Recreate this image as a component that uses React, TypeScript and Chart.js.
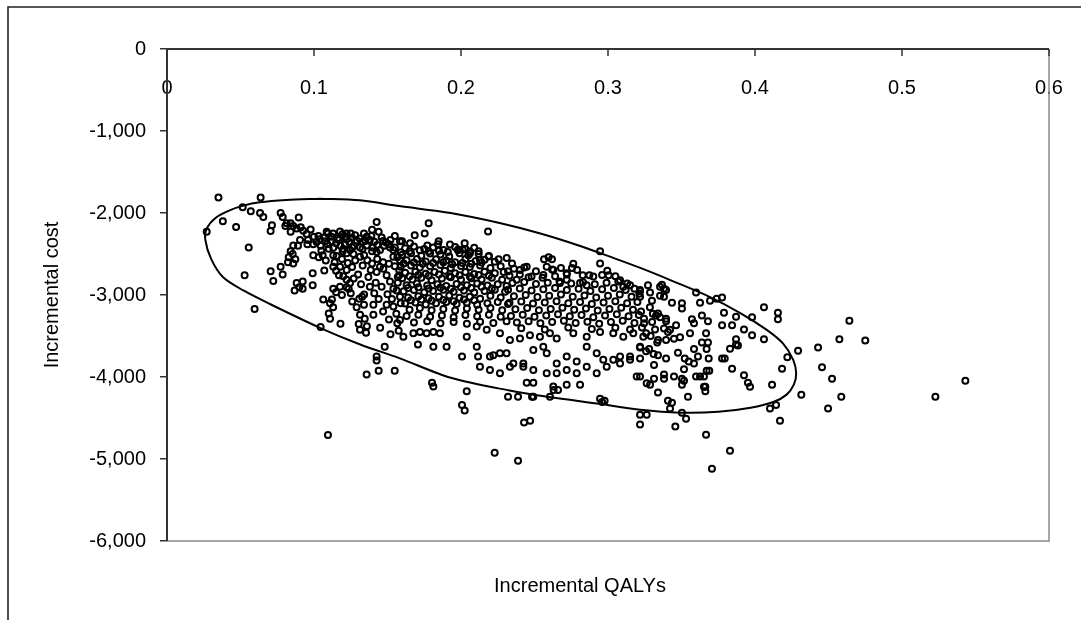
import React, { useEffect, useRef } from 'react';
import { Chart, registerables } from 'chart.js';

Chart.register(...registerables);

// ---------- axis definitions ----------
const xTickValues = [0, 0.1, 0.2, 0.3, 0.4, 0.5, 0.6];
const xTickLabels = ['0', '0.1', '0.2', '0.3', '0.4', '0.5', '0.6'];
const yMin = -6000;
const yMax = 0;
const yStep = 1000;
const xAxisTitle = 'Incremental QALYs';
const yAxisTitle = 'Incremental cost';

// ---------- simulated (incremental QALY, incremental cost) pairs ----------
const leftTail: [number, number][] = [
  [0.027, -2230], [0.035, -1810], [0.038, -2100], [0.047, -2170], [0.0515, -1930], [0.057, -1980],
  [0.0556, -2420], [0.0528, -2760], [0.0596, -3170], [0.0637, -1810], [0.0633, -2000], [0.0655, -2050],
  [0.0705, -2710], [0.0723, -2830], [0.0705, -2220], [0.0714, -2150], [0.0773, -2000], [0.0787, -2050],
  [0.0773, -2655], [0.0787, -2750], [0.0814, -2125], [0.0841, -2125], [0.0805, -2160], [0.0859, -2160],
  [0.0841, -2230], [0.0882, -2190], [0.0859, -2395], [0.0841, -2465], [0.0855, -2500], [0.0828, -2540],
  [0.0823, -2600], [0.0859, -2615], [0.0896, -2055], [0.0891, -2400], [0.0873, -2565], [0.0882, -2855],
  [0.0868, -2945], [0.09, -2905], [0.091, -2175], [0.0927, -2215], [0.0977, -2200], [0.095, -2255],
  [0.0959, -2330], [0.0905, -2330], [0.0923, -2835], [0.0923, -2925], [0.0991, -2735], [0.0991, -2880],
  [0.0955, -2380], [0.0995, -2380],
];

const band010: [number, number][] = [
  [0.1018, -2355], [0.1, -2290], [0.1045, -2400], [0.0995, -2515], [0.1032, -2540], [0.1059, -2515],
  [0.1086, -2230], [0.1095, -2250], [0.1077, -2345], [0.11, -2435], [0.1063, -3055], [0.1045, -3390],
  [0.1122, -2345], [0.115, -2370], [0.1131, -2425], [0.1131, -2515], [0.1154, -2525], [0.1177, -2225],
  [0.1195, -2255], [0.1131, -2655], [0.115, -2705], [0.1177, -2655], [0.1131, -2925], [0.115, -2965],
  [0.1122, -3055], [0.1109, -3100], [0.11, -3225], [0.1109, -3290], [0.1195, -2465], [0.1177, -2900],
  [0.103, -2280], [0.107, -2300], [0.112, -2290], [0.116, -2310], [0.118, -2400], [0.105, -2460],
  [0.108, -2580], [0.114, -2600], [0.119, -2560], [0.117, -2760], [0.119, -3000], [0.113, -3150],
  [0.118, -3350], [0.107, -2700],
];

const band012: [number, number][] = [
  [0.1222, -2250], [0.125, -2250], [0.1222, -2320], [0.1259, -2305], [0.129, -2335], [0.1222, -2490],
  [0.1245, -2450], [0.1268, -2500], [0.1222, -2695], [0.1259, -2660], [0.1199, -2770], [0.1222, -2815],
  [0.1245, -2855], [0.1222, -2905], [0.1236, -2925], [0.125, -2980], [0.1308, -3045], [0.1327, -3020],
  [0.1341, -2995], [0.1313, -2535], [0.1341, -2515], [0.1331, -2640], [0.1313, -2420], [0.134, -2250],
  [0.1358, -2290], [0.1395, -2205], [0.1426, -2110], [0.144, -2230], [0.1358, -2395], [0.1395, -2465],
  [0.1363, -2575], [0.1395, -2615], [0.1386, -2695], [0.134, -3120], [0.1313, -3240], [0.1345, -3290],
  [0.1304, -3355], [0.1313, -3425], [0.1354, -3460], [0.1404, -3240], [0.1404, -3120], [0.121, -2380],
  [0.127, -2400], [0.128, -2580], [0.123, -2610], [0.13, -2750], [0.127, -2800], [0.132, -2870],
  [0.137, -2780], [0.138, -2900], [0.129, -3150], [0.136, -3380], [0.138, -2330], [0.133, -2350],
  [0.126, -3080],
];

const band014: [number, number][] = [
  [0.1426, -2475], [0.1449, -2450], [0.1476, -2400], [0.1426, -2720], [0.1449, -2655], [0.1472, -2680],
  [0.1494, -2760], [0.1494, -3120], [0.1481, -3630], [0.1517, -2420], [0.154, -2450], [0.1517, -2835],
  [0.154, -2925], [0.1562, -2945], [0.1585, -3020], [0.154, -2535], [0.1567, -2540], [0.1585, -2345],
  [0.154, -3140], [0.1567, -3345], [0.1576, -3435], [0.1585, -3305], [0.1585, -2575], [0.1426, -3750],
  [0.1426, -3800], [0.1358, -3970], [0.144, -3925], [0.1549, -3925], [0.141, -2350], [0.146, -2300],
  [0.149, -2360], [0.152, -2330], [0.155, -2280], [0.143, -2560], [0.147, -2600], [0.151, -2620],
  [0.155, -2650], [0.158, -2700], [0.142, -2850], [0.146, -2900], [0.15, -2990], [0.153, -3050],
  [0.157, -2850], [0.144, -3050], [0.147, -3200], [0.151, -3300], [0.156, -3230], [0.159, -3100],
  [0.145, -3400], [0.152, -3480], [0.159, -2480], [0.157, -2780], [0.141, -2980],
];

const topBandExtra: [number, number][] = [
  [0.104, -2320], [0.109, -2380], [0.113, -2250], [0.117, -2330], [0.121, -2290], [0.124, -2350],
  [0.128, -2270], [0.131, -2310], [0.135, -2340], [0.139, -2280], [0.143, -2390], [0.147, -2340],
  [0.151, -2380], [0.155, -2420], [0.126, -2420], [0.12, -2440], [0.133, -2440], [0.14, -2420],
];

const upperCore: [number, number][] = [
  [0.178, -2125], [0.1753, -2250], [0.1685, -2270], [0.2184, -2225], [0.2946, -2465], [0.2946, -2615],
  [0.1848, -2345], [0.1843, -2380], [0.2025, -2370], [0.1925, -2385], [0.1771, -2395], [0.1653, -2370],
  [0.1599, -2345], [0.212, -2465], [0.198, -2445], [0.2011, -2445], [0.2061, -2490], [0.2129, -2575],
  [0.2311, -2550], [0.2188, -2530], [0.2256, -2565], [0.2347, -2615], [0.2565, -2565], [0.2596, -2540],
  [0.2619, -2565], [0.2764, -2620], [0.2755, -2670], [0.2719, -2735], [0.2828, -2760], [0.2873, -2760],
  [0.2995, -2705], [0.3004, -2760], [0.315, -2880], [0.3218, -2940], [0.3213, -2985], [0.251, -2710],
  [0.246, -2785], [0.2555, -2790], [0.232, -2710], [0.2379, -2815], [0.2401, -2695], [0.2447, -2655],
  [0.2628, -2695], [0.2583, -2655], [0.2673, -2855], [0.2719, -2815], [0.281, -2855], [0.2855, -2880],
  [0.3082, -2820], [0.3104, -2900],
];

const coreLeft: [number, number][] = [
  [0.162, -2430], [0.168, -2410], [0.175, -2440], [0.181, -2420], [0.188, -2450], [0.196, -2415], [0.203, -2440], [0.209, -2425],
  [0.16, -2510], [0.166, -2490], [0.173, -2520], [0.179, -2495], [0.186, -2505], [0.192, -2530], [0.199, -2490], [0.205, -2515], [0.212, -2500], [0.219, -2525],
  [0.163, -2575], [0.17, -2560], [0.176, -2590], [0.183, -2565], [0.19, -2580], [0.196, -2600], [0.203, -2560], [0.21, -2585], [0.216, -2570], [0.223, -2595],
  [0.159, -2655], [0.166, -2640], [0.172, -2665], [0.179, -2650], [0.186, -2635], [0.193, -2670], [0.2, -2645], [0.206, -2660], [0.213, -2640], [0.22, -2670], [0.227, -2650],
  [0.162, -2730], [0.169, -2715], [0.176, -2740], [0.182, -2720], [0.189, -2705], [0.196, -2735], [0.203, -2720], [0.209, -2745], [0.216, -2715], [0.223, -2735], [0.229, -2720],
  [0.16, -2795], [0.167, -2810], [0.173, -2790], [0.18, -2820], [0.187, -2800], [0.193, -2785], [0.2, -2815], [0.207, -2795], [0.214, -2810], [0.221, -2790], [0.228, -2815],
  [0.163, -2880], [0.17, -2860], [0.177, -2885], [0.184, -2870], [0.19, -2890], [0.197, -2865], [0.204, -2880], [0.211, -2860], [0.218, -2885], [0.225, -2870], [0.231, -2890],
  [0.161, -2955], [0.168, -2940], [0.175, -2965], [0.181, -2950], [0.188, -2935], [0.195, -2960], [0.202, -2945], [0.209, -2970], [0.216, -2950], [0.223, -2935], [0.23, -2960],
  [0.164, -3030], [0.171, -3015], [0.178, -3040], [0.185, -3020], [0.192, -3005], [0.199, -3035], [0.206, -3020], [0.213, -3045], [0.22, -3010], [0.227, -3030],
  [0.162, -3105], [0.169, -3090], [0.176, -3115], [0.183, -3100], [0.19, -3085], [0.197, -3110], [0.204, -3095], [0.211, -3120], [0.218, -3100], [0.225, -3085], [0.232, -3110],
  [0.165, -3180], [0.172, -3160], [0.18, -3185], [0.188, -3170], [0.196, -3190], [0.204, -3165], [0.212, -3180], [0.22, -3160], [0.228, -3185],
  [0.163, -3255], [0.171, -3240], [0.179, -3265], [0.187, -3250], [0.195, -3270], [0.203, -3245], [0.211, -3260], [0.219, -3240], [0.227, -3265],
  [0.168, -3335], [0.177, -3320], [0.186, -3345], [0.195, -3330], [0.204, -3350], [0.213, -3325], [0.222, -3340], [0.231, -3320],
];

const coreInterleave: [number, number][] = [
  [0.165, -2465], [0.172, -2455], [0.178, -2470], [0.185, -2460], [0.191, -2475], [0.198, -2455], [0.206, -2470],
  [0.161, -2615], [0.168, -2605], [0.174, -2620], [0.181, -2610], [0.188, -2600], [0.194, -2625], [0.201, -2610], [0.207, -2620], [0.214, -2605],
  [0.158, -2760], [0.165, -2770], [0.171, -2755], [0.178, -2765], [0.185, -2750], [0.192, -2770], [0.199, -2760], [0.206, -2775], [0.212, -2755], [0.219, -2765],
  [0.164, -2915], [0.171, -2905], [0.178, -2920], [0.186, -2910], [0.193, -2925], [0.2, -2905], [0.207, -2915], [0.214, -2900], [0.221, -2920],
  [0.166, -3065], [0.173, -3055], [0.18, -3070], [0.188, -3060], [0.195, -3075], [0.202, -3055], [0.209, -3065],
];

const coreRight: [number, number][] = [
  [0.236, -2680], [0.243, -2665], [0.262, -2690], [0.268, -2670], [0.279, -2695],
  [0.233, -2765], [0.24, -2750], [0.248, -2775], [0.256, -2755], [0.264, -2770], [0.272, -2750], [0.29, -2775], [0.296, -2755], [0.305, -2770],
  [0.235, -2855], [0.243, -2840], [0.251, -2865], [0.259, -2850], [0.267, -2835], [0.275, -2860], [0.283, -2845], [0.291, -2870], [0.299, -2850], [0.307, -2835], [0.313, -2860],
  [0.232, -2935], [0.24, -2920], [0.248, -2945], [0.256, -2930], [0.264, -2915], [0.272, -2940], [0.28, -2925], [0.288, -2950], [0.296, -2930], [0.304, -2915], [0.312, -2940], [0.318, -2925],
  [0.236, -3015], [0.244, -3000], [0.252, -3025], [0.26, -3010], [0.268, -2995], [0.276, -3020], [0.284, -3005], [0.292, -3030], [0.3, -3010], [0.308, -2995], [0.316, -3020],
  [0.233, -3095], [0.241, -3080], [0.249, -3105], [0.257, -3090], [0.265, -3075], [0.273, -3100], [0.281, -3085], [0.289, -3110], [0.297, -3090], [0.305, -3075], [0.313, -3100], [0.32, -3085],
  [0.237, -3175], [0.245, -3160], [0.253, -3185], [0.261, -3170], [0.269, -3155], [0.277, -3180], [0.285, -3165], [0.293, -3190], [0.301, -3170], [0.309, -3155], [0.317, -3180],
  [0.234, -3255], [0.242, -3240], [0.25, -3265], [0.258, -3250], [0.266, -3235], [0.274, -3260], [0.282, -3245], [0.29, -3270], [0.298, -3250], [0.306, -3235], [0.314, -3260], [0.321, -3245],
  [0.238, -3335], [0.246, -3320], [0.254, -3345], [0.262, -3330], [0.27, -3315], [0.278, -3340], [0.286, -3325], [0.294, -3350], [0.302, -3330], [0.31, -3315], [0.318, -3340],
  [0.241, -3405], [0.257, -3420], [0.273, -3395], [0.289, -3415], [0.305, -3400], [0.315, -3420],
];

const lowerFringe: [number, number][] = [
  [0.1608, -3510], [0.1676, -3465], [0.1721, -3450], [0.1766, -3465], [0.1812, -3450], [0.1857, -3465],
  [0.2039, -3510], [0.2107, -3385], [0.2175, -3425], [0.2265, -3465], [0.2333, -3550], [0.2401, -3530],
  [0.2469, -3490], [0.2537, -3510], [0.2605, -3465], [0.2651, -3530], [0.2764, -3465], [0.2855, -3510],
  [0.2946, -3450], [0.3036, -3465], [0.3104, -3510], [0.3172, -3465], [0.324, -3510],
  [0.1707, -3605], [0.1812, -3630], [0.1902, -3630], [0.2007, -3750], [0.2107, -3630], [0.2116, -3750],
  [0.2197, -3750], [0.222, -3735], [0.2265, -3710], [0.231, -3710], [0.2356, -3835], [0.2424, -3835],
  [0.2492, -3670], [0.256, -3630], [0.2583, -3710], [0.2651, -3835], [0.2719, -3750], [0.2787, -3810],
  [0.2855, -3630], [0.2923, -3710], [0.2968, -3790], [0.3036, -3790], [0.3082, -3750], [0.315, -3750],
  [0.3218, -3630],
  [0.2129, -3875], [0.2197, -3915], [0.2265, -3955], [0.2333, -3875], [0.2424, -3875], [0.2492, -3915],
  [0.2583, -3955], [0.2651, -3955], [0.2719, -3915], [0.2787, -3955], [0.2855, -3875], [0.2923, -3955],
  [0.2991, -3875], [0.3082, -3835], [0.315, -3790], [0.3195, -3995], [0.3263, -4075], [0.1803, -4070],
  [0.1812, -4115], [0.2447, -4070], [0.2492, -4070], [0.2628, -4115], [0.2719, -4095], [0.281, -4095],
];

const lowOutliers: [number, number][] = [
  [0.2039, -4175], [0.2007, -4340], [0.2025, -4410], [0.232, -4240], [0.2388, -4240], [0.2483, -4240],
  [0.2492, -4240], [0.2605, -4240], [0.263, -4160], [0.266, -4160], [0.2429, -4555], [0.247, -4535],
  [0.2229, -4925], [0.2388, -5020], [0.2946, -4265], [0.296, -4305], [0.2977, -4290], [0.3218, -4460],
  [0.3263, -4460], [0.3218, -4580], [0.1095, -4707],
];

const rightTail: [number, number][] = [
  [0.3272, -2880], [0.3354, -2900], [0.3367, -2875], [0.3381, -2925], [0.3395, -2940], [0.3286, -2970],
  [0.3354, -3010], [0.3381, -3020], [0.3299, -3070], [0.3435, -3095], [0.3503, -3100], [0.3503, -3165],
  [0.3599, -2970], [0.3626, -3095], [0.3694, -3070], [0.3739, -3045], [0.3776, -3030], [0.3789, -3215],
  [0.3871, -3265], [0.398, -3270], [0.4061, -3150], [0.4156, -3215], [0.4156, -3295], [0.4642, -3315],
  [0.4574, -3540], [0.475, -3555], [0.4429, -3640], [0.4293, -3680], [0.422, -3760], [0.4184, -3900],
  [0.4456, -3880], [0.4524, -4020], [0.4315, -4215], [0.4587, -4240], [0.4497, -4385], [0.4143, -4340],
  [0.4102, -4385], [0.417, -4535], [0.5227, -4240], [0.5431, -4045], [0.3667, -4705], [0.383, -4900],
  [0.3707, -5120], [0.3458, -4605], [0.3531, -4510], [0.3503, -4435], [0.3422, -4385], [0.3435, -4315],
  [0.3408, -4290], [0.3544, -4240], [0.334, -4190], [0.3662, -4175], [0.3662, -4120], [0.3286, -4095],
  [0.3313, -4020], [0.3381, -4020], [0.3381, -3970], [0.3449, -3995], [0.3503, -4020], [0.3503, -4095],
  [0.3517, -4045], [0.3599, -3995], [0.3626, -3995], [0.3653, -3995], [0.3671, -3925], [0.3689, -3925],
  [0.3653, -4120], [0.3925, -3980], [0.3952, -4070], [0.3966, -4120], [0.4116, -4095], [0.3844, -3900],
  [0.3776, -3775], [0.3794, -3775], [0.3685, -3775], [0.383, -3655], [0.3871, -3605], [0.3884, -3615],
  [0.3871, -3540], [0.3671, -3660], [0.368, -3580], [0.3639, -3580], [0.3667, -3465], [0.3585, -3660],
  [0.3612, -3750], [0.3585, -3835], [0.3549, -3810], [0.3522, -3775], [0.3476, -3705], [0.3395, -3775],
  [0.334, -3735], [0.3313, -3855], [0.3517, -3905], [0.3844, -3370], [0.3776, -3370], [0.3925, -3420],
  [0.398, -3490], [0.4061, -3540], [0.368, -3320], [0.3639, -3250], [0.3571, -3295], [0.3585, -3345],
  [0.3558, -3465], [0.349, -3515], [0.3463, -3370], [0.3422, -3425], [0.3408, -3450], [0.3381, -3410],
  [0.334, -3550], [0.3395, -3550], [0.3449, -3535], [0.334, -3225], [0.3327, -3250], [0.3354, -3270],
  [0.3395, -3290], [0.3395, -3320], [0.3245, -3290], [0.3245, -3345], [0.3231, -3395], [0.3218, -2955],
  [0.3218, -3020], [0.3259, -3465], [0.3218, -3640], [0.3259, -3685], [0.3218, -3775], [0.3218, -3995],
  [0.3225, -3200], [0.3285, -3150], [0.3305, -3230], [0.33, -3330], [0.332, -3420], [0.329, -3500],
  [0.3335, -3580], [0.328, -3660], [0.331, -3720],
];

// confidence ellipse outline, traced clockwise starting on its flat top
const ellipsePath: [number, number][] = [
  [0.104, -1825], [0.131, -1845], [0.158, -1915], [0.193, -2000], [0.227, -2125],
  [0.254, -2250], [0.279, -2390], [0.304, -2550], [0.322, -2670], [0.344, -2830], [0.367, -3005],
  [0.39, -3220], [0.408, -3425], [0.419, -3590], [0.426, -3790], [0.428, -3955], [0.4265, -4090],
  [0.4215, -4215], [0.4125, -4305], [0.397, -4375], [0.375, -4425], [0.349, -4435], [0.322, -4400],
  [0.295, -4330], [0.26, -4245], [0.233, -4165], [0.193, -4010], [0.158, -3770], [0.131, -3600],
  [0.104, -3400], [0.07, -3110], [0.052, -2945], [0.038, -2780], [0.03, -2560], [0.026, -2320],
  [0.027, -2190], [0.033, -2060], [0.043, -1965], [0.052, -1910], [0.063, -1870],
  [0.081, -1841], [0.104, -1825],
];

const FONT = '"Liberation Sans", Arial, Helvetica, sans-serif';

export default function App() {
  const canvasRef = useRef<HTMLCanvasElement>(null);

  useEffect(() => {
    const canvas = canvasRef.current;
    if (!canvas) return;

    const scatterPoints = [
      ...leftTail, ...band010, ...band012, ...band014, ...topBandExtra, ...upperCore,
      ...coreLeft, ...coreInterleave, ...coreRight, ...lowerFringe, ...lowOutliers, ...rightTail,
    ].map(([x, y]) => ({ x, y }));
    const ellipsePoints = ellipsePath.map(([x, y]) => ({ x, y }));

    const chromePlugin = {
      id: 'excelChrome',
      beforeDraw(chart: any) {
        const ctx = chart.ctx;
        ctx.save();
        ctx.strokeStyle = '#222';
        ctx.lineWidth = 1.6;
        ctx.beginPath();
        ctx.moveTo(8, 620);
        ctx.lineTo(8, 7);
        ctx.lineTo(1081, 7);
        ctx.stroke();
        ctx.restore();
      },
      afterDraw(chart: any) {
        const { ctx, chartArea: a } = chart;
        const xs = chart.scales.x;
        const ys = chart.scales.y;
        const y0 = ys.getPixelForValue(0);
        ctx.save();

        // x tick labels (below the zero line, inside the plot)
        ctx.fillStyle = '#000';
        ctx.font = `20px ${FONT}`;
        ctx.textAlign = 'center';
        ctx.textBaseline = 'middle';
        xTickValues.forEach((v, i) => {
          ctx.fillText(xTickLabels[i], xs.getPixelForValue(v), y0 + 39);
        });

        // gray right and bottom border of the plot
        ctx.strokeStyle = '#8a8a8a';
        ctx.lineWidth = 1.5;
        ctx.beginPath();
        ctx.moveTo(a.right, a.top);
        ctx.lineTo(a.right, a.bottom);
        ctx.lineTo(a.left, a.bottom);
        ctx.stroke();

        // x axis line at cost = 0 and its tick marks
        ctx.strokeStyle = '#333';
        ctx.lineWidth = 2;
        ctx.beginPath();
        ctx.moveTo(a.left, y0);
        ctx.lineTo(a.right, y0);
        ctx.stroke();
        ctx.lineWidth = 1.5;
        xTickValues.forEach((v) => {
          const px = xs.getPixelForValue(v);
          ctx.beginPath();
          ctx.moveTo(px, y0);
          ctx.lineTo(px, y0 + 7);
          ctx.stroke();
        });

        // y axis line
        ctx.lineWidth = 2;
        ctx.beginPath();
        ctx.moveTo(a.left, a.top);
        ctx.lineTo(a.left, a.bottom);
        ctx.stroke();

        // axis titles
        ctx.fillStyle = '#000';
        ctx.font = `20px ${FONT}`;
        ctx.textAlign = 'center';
        ctx.textBaseline = 'middle';
        ctx.fillText(xAxisTitle, 580, 586);
        ctx.save();
        ctx.translate(52, (a.top + a.bottom) / 2);
        ctx.rotate(-Math.PI / 2);
        ctx.fillText(yAxisTitle, 0, 0);
        ctx.restore();

        ctx.restore();
      },
    };

    const chart = new Chart(canvas, {
      type: 'scatter',
      data: {
        datasets: [
          {
            label: 'Simulations',
            data: scatterPoints,
            pointRadius: 3,
            pointHoverRadius: 3,
            pointBorderWidth: 2,
            pointBorderColor: '#000',
            pointBackgroundColor: 'rgba(255,255,255,0)',
            showLine: false,
          },
          {
            label: 'Ellipse',
            data: ellipsePoints,
            showLine: true,
            pointRadius: 0,
            borderColor: '#000',
            borderWidth: 2,
            tension: 0.3,
            fill: false,
          },
        ],
      },
      options: {
        responsive: false,
        animation: false,
        devicePixelRatio: 1,
        layout: { padding: { left: 0, right: 32, top: 49, bottom: 79 } },
        plugins: {
          legend: { display: false },
          tooltip: { enabled: false },
        },
        events: [],
        scales: {
          x: {
            type: 'linear',
            min: 0,
            max: 0.6,
            display: false,
          },
          y: {
            type: 'linear',
            min: yMin,
            max: yMax,
            position: 'left',
            afterFit: (scale: any) => {
              scale.width = 167;
            },
            ticks: {
              stepSize: yStep,
              color: '#000',
              padding: 14,
              font: { family: FONT, size: 20 },
              callback: (v: any) => Number(v).toLocaleString('en-US'),
            },
            grid: {
              drawOnChartArea: false,
              drawTicks: true,
              tickLength: 7,
              color: '#333',
              lineWidth: 1.5,
            },
            border: { display: false },
          },
        },
      },
      plugins: [chromePlugin],
    });

    return () => chart.destroy();
  }, []);

  return (
    <canvas
      ref={canvasRef}
      width={1081}
      height={620}
      style={{ position: 'fixed', left: 0, top: 0, width: 1081, height: 620, display: 'block' }}
    />
  );
}
